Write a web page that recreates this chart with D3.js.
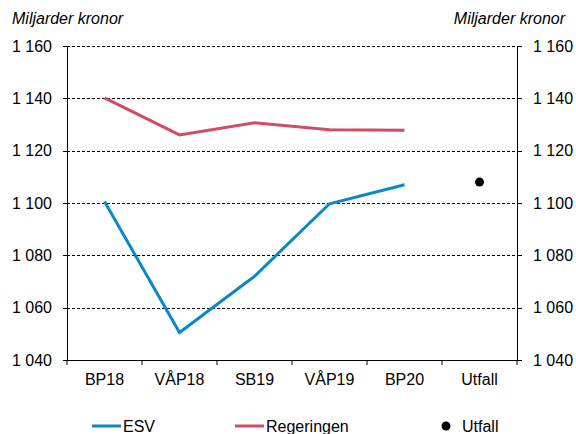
<!DOCTYPE html>
<html>
<head>
<meta charset="utf-8">
<script src="https://cdn.jsdelivr.net/npm/d3@7"></script>
<style>
  body { margin: 0; background: #fff; }
  svg { display: block; font-family: "Liberation Sans", Arial, sans-serif; }
  .axis path, .axis line { stroke: #000; }
  .axis text { font-size: 16px; fill: #000; }
</style>
</head>
<body>
<svg id="chart" width="576" height="434"></svg>
<script>
/*
Chart data */
var categories = ['BP18', 'VÅP18', 'SB19', 'VÅP19', 'BP20', 'Utfall'];
var esv = [1100.6, 1050.5, 1072, 1099.7, 1107];
var regeringen = [1140.2, 1126, 1130.7, 1128, 1127.8];
var utfall = 1108;
var yTicks = [1040, 1060, 1080, 1100, 1120, 1140, 1160];
var unitLabel = 'Miljarder kronor';

function draw_chart() {
  var svg = d3.select('#chart');
  var mLeft = 67, mRight = 517, mTop = 46, mBottom = 360;

  var x = d3.scaleBand().domain(categories).range([mLeft, mRight]);
  var y = d3.scaleLinear().domain([1040, 1160]).range([mBottom, mTop]);

  // swedish style thousands: "1 160"
  var fmt = d3.formatLocale({ decimal: ',', thousands: ' ', grouping: [3], currency: ['', ' kr'] }).format(',');

  /*
  Dashed gridlines */
  svg.append('g')
    .selectAll('line')
    .data(yTicks.filter(function(d) { return d > 1040; }))
    .join('line')
    .attr('x1', mLeft).attr('x2', mRight)
    .attr('y1', function(d) { return Math.round(y(d)) + 0.5; })
    .attr('y2', function(d) { return Math.round(y(d)) + 0.5; })
    .attr('stroke', '#000')
    .attr('stroke-width', 1)
    .attr('stroke-dasharray', '3,2');

  /*
  Axes */
  var yLeft = svg.append('g').attr('class', 'axis')
    .attr('transform', 'translate(' + mLeft + ',0)')
    .call(d3.axisLeft(y).tickValues(yTicks).tickFormat(fmt).tickSize(4).tickPadding(11));

  var yRight = svg.append('g').attr('class', 'axis')
    .attr('transform', 'translate(' + mRight + ',0)')
    .call(d3.axisRight(y).tickValues(yTicks).tickFormat(fmt).tickSize(5).tickPadding(11));

  [yLeft, yRight].forEach(function(g) {
    g.select('.domain').attr('d', 'M0,' + mTop + 'V' + mBottom);
  });

  var xAxis = svg.append('g').attr('class', 'axis')
    .attr('transform', 'translate(0,' + mBottom + ')')
    .call(d3.axisBottom(x).tickSize(0).tickPadding(14));
  xAxis.select('.domain').attr('d', 'M' + mLeft + ',0H' + mRight);

  // ticks between categories
  var bounds = categories.map(function(c) { return x(c); }).concat([mRight]);
  svg.append('g')
    .selectAll('line')
    .data(bounds)
    .join('line')
    .attr('x1', function(d) { return d; }).attr('x2', function(d) { return d; })
    .attr('y1', mBottom).attr('y2', mBottom + 5)
    .attr('stroke', '#000');

  svg.selectAll('.axis line, .axis path').attr('shape-rendering', 'crispEdges');

  /*
  Unit labels */
  svg.append('text').attr('x', 12).attr('y', 24)
    .attr('font-size', 16).attr('font-style', 'italic').text(unitLabel);
  svg.append('text').attr('x', 565).attr('y', 24).attr('text-anchor', 'end')
    .attr('font-size', 16).attr('font-style', 'italic').text(unitLabel);

  /*
  Lines */
  var cx = function(d, i) { return x(categories[i]) + x.bandwidth() / 2; };
  var line = d3.line().x(cx).y(function(d) { return y(d); });

  svg.append('path').datum(regeringen)
    .attr('d', line).attr('fill', 'none')
    .attr('stroke', '#d04d68').attr('stroke-width', 3);

  svg.append('path').datum(esv)
    .attr('d', line).attr('fill', 'none')
    .attr('stroke', '#0a88c8').attr('stroke-width', 3);

  svg.append('circle')
    .attr('cx', x('Utfall') + x.bandwidth() / 2)
    .attr('cy', y(utfall))
    .attr('r', 4.5).attr('fill', '#000');

  /*
  Legend */
  var legend = [
    { name: 'ESV', color: '#0a88c8', type: 'line', x: 92 },
    { name: 'Regeringen', color: '#d04d68', type: 'line', x: 235 },
    { name: 'Utfall', color: '#000', type: 'dot', x: 446 }
  ];
  var lg = svg.append('g').selectAll('g').data(legend).join('g')
    .attr('transform', function(d) { return 'translate(' + d.x + ',426)'; });
  lg.filter(function(d) { return d.type == 'line'; })
    .append('line').attr('x1', 0).attr('x2', 29)
    .attr('stroke', function(d) { return d.color; }).attr('stroke-width', 3);
  lg.filter(function(d) { return d.type == 'dot'; })
    .append('circle').attr('r', 4.5).attr('fill', function(d) { return d.color; });
  lg.append('text')
    .attr('x', function(d) { return d.type == 'line' ? 31 : 16; })
    .attr('y', 6)
    .attr('font-size', 16)
    .text(function(d) { return d.name; });
}

draw_chart();
</script>
</body>
</html>
